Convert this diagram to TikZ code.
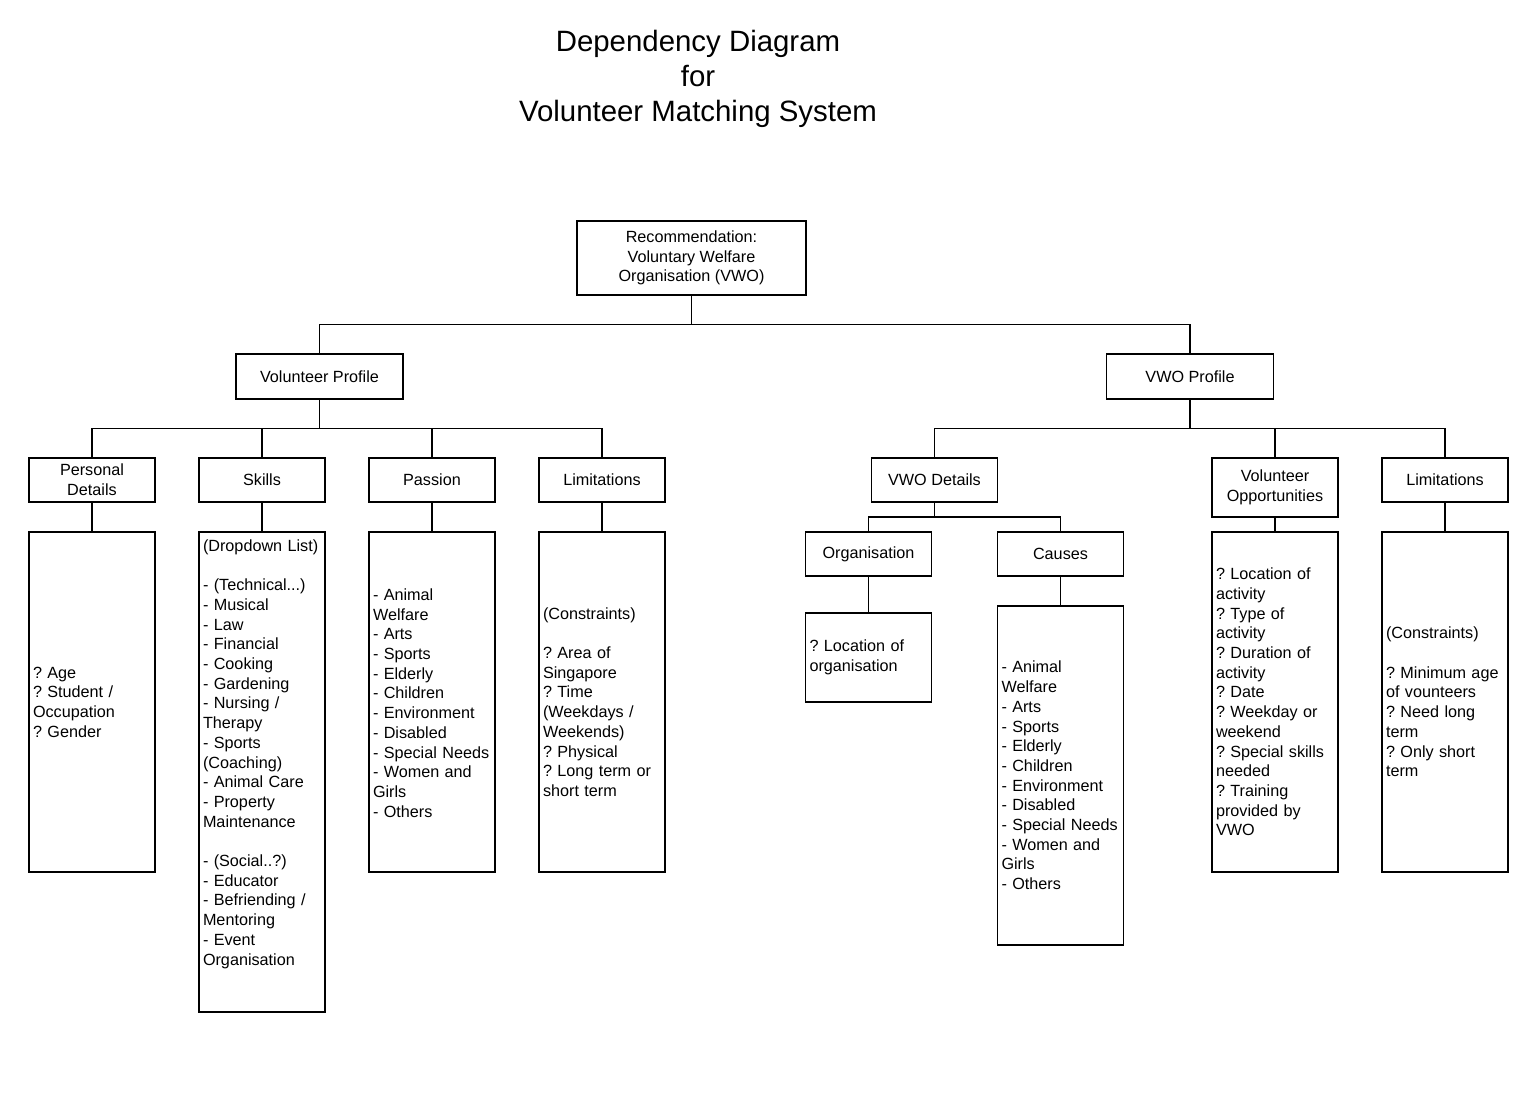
\documentclass[tikz,border=0pt]{standalone}
\usepackage{fontspec}
\setmainfont{Liberation Sans}
\frenchspacing
\usetikzlibrary{calc}
\tikzset{
  box/.style={draw, line width=0.85pt, align=center, inner sep=0pt,
    minimum width=63pt, minimum height=22pt, font=\fontsize{8.1}{9.85}\selectfont},
  list/.style={draw, line width=0.85pt, align=left, inner xsep=2pt, inner ysep=0pt,
    text width=59pt, minimum height=170pt, font=\fontsize{8.1}{9.85}\selectfont},
  elbow/.style={to path={|- ($(\tikztostart)!.5!(\tikztotarget)$) -| (\tikztotarget)}},
  link/.style={line width=0.85pt}
}
\begin{document}
\begin{tikzpicture}[x=0.5pt, y=-0.5pt]
            \useasboundingbox (0,0) rectangle (1538,1112);
            \node [align=center, font=\fontsize{14.7}{17.5}\selectfont] (title) at (698,79)
                {Dependency Diagram\\for\\Volunteer Matching System};
            % top levels
            \node [box, minimum width=114.5pt, minimum height=37pt] (root) at (691.5,258)
                {Recommendation:\\Voluntary Welfare\\Organisation (VWO)};
            \node [box, minimum width=83.5pt, minimum height=22.5pt] (vp) at (319.5,376.5) {Volunteer Profile};
            \node [box, minimum width=83.5pt, minimum height=22.5pt] (wp) at (1190,376.5) {VWO Profile};
            \node [box] (pd) at (92,480) {Personal\\Details};
            \node [box] (sk) at (262,480) {Skills};
            \node [box] (pa) at (432,480) {Passion};
            \node [box] (li) at (602,480) {Limitations};
            \node [box] (vd) at (934.5,480) {VWO Details};
            \node [box, minimum height=29.5pt] (vo) at (1275,487.5) {Volunteer\\Opportunities};
            \node [box] (wl) at (1445,480) {Limitations};
            \node [box] (org) at (868.5,554) {Organisation};
            \node [box] (cau) at (1060.5,554) {Causes};
            % lists
            \node [list] (pdL) at (92,702) {? Age\\? Student /\\Occupation\\? Gender};
            \node [list, minimum height=240pt] (skL) at (262,772) {(Dropdown List)\\~\\- (Technical...)\\- Musical\\- Law\\- Financial\\- Cooking\\- Gardening\\- Nursing /\\Therapy\\- Sports\\(Coaching)\\- Animal Care\\- Property\\Maintenance\\~\\- (Social..?)\\- Educator\\- Befriending /\\Mentoring\\- Event\\Organisation\\~\\~};
            \node [list] (paL) at (432,702) {~\\[-3pt]- Animal\\Welfare\\- Arts\\- Sports\\- Elderly\\- Children\\- Environment\\- Disabled\\- Special Needs\\- Women and\\Girls\\- Others};
            \node [list] (liL) at (602,702) {(Constraints)\\~\\? Area of\\Singapore\\? Time\\(Weekdays /\\Weekends)\\? Physical\\? Long term or\\short term};
            \node [list, minimum height=44.5pt] (orgL) at (868.5,657.5) {? Location of\\organisation};
            \node [list, minimum height=169.5pt] (cauL) at (1060.5,775.5) {- Animal\\Welfare\\- Arts\\- Sports\\- Elderly\\- Children\\- Environment\\- Disabled\\- Special Needs\\- Women and\\Girls\\- Others};
            \node [list] (voL) at (1275,702) {? Location of\\activity\\? Type of\\activity\\? Duration of\\activity\\? Date\\? Weekday or\\weekend\\? Special skills\\needed\\? Training\\provided by\\VWO};
            \node [list] (wlL) at (1445,702) {(Constraints)\\~\\? Minimum age\\of vounteers\\? Need long\\term\\? Only short\\term};
            % connectors
            \draw [link] (root.south) to[elbow] (vp.north);
            \draw [link] (root.south) to[elbow] (wp.north);
            \draw [link] (vp.south) to[elbow] (pd.north);
            \draw [link] (vp.south) to[elbow] (sk.north);
            \draw [link] (vp.south) to[elbow] (pa.north);
            \draw [link] (vp.south) to[elbow] (li.north);
            \draw [link] (wp.south) to[elbow] (vd.north);
            \draw [link] (wp.south) to[elbow] (vo.north);
            \draw [link] (wp.south) to[elbow] (wl.north);
            \draw [link] (vd.south) to[elbow] (org.north);
            \draw [link] (vd.south) to[elbow] (cau.north);
            \draw [link] (pd) -- (pdL);
            \draw [link] (sk) -- (skL);
            \draw [link] (pa) -- (paL);
            \draw [link] (li) -- (liL);
            \draw [link] (org) -- (orgL);
            \draw [link] (cau) -- (cauL);
            \draw [link] (vo) -- (voL);
            \draw [link] (wl) -- (wlL);
        \end{tikzpicture}
\end{document}
